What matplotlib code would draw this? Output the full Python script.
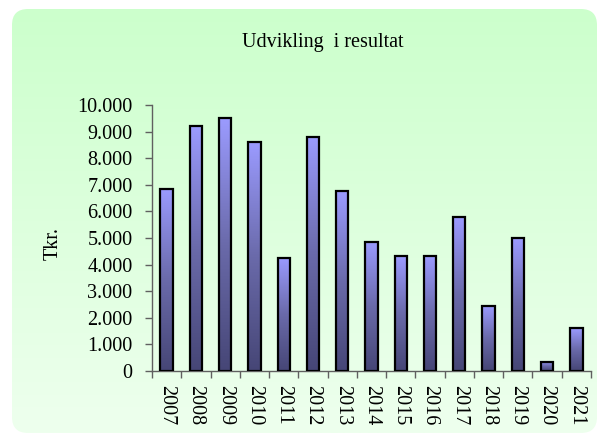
import numpy as np
import matplotlib.pyplot as plt
from matplotlib.patches import FancyBboxPatch, Rectangle
from matplotlib.colors import LinearSegmentedColormap

# --- data ---
years = ['2007', '2008', '2009', '2010', '2011', '2012', '2013', '2014',
         '2015', '2016', '2017', '2018', '2019', '2020', '2021']
resultat = [6850, 9200, 9500, 8600, 4250, 8800, 6750, 4850,
            4320, 4320, 5780, 2450, 5000, 350, 1600]
yticks = [0, 1000, 2000, 3000, 4000, 5000, 6000, 7000, 8000, 9000, 10000]
ytick_labels = ['0', '1.000', '2.000', '3.000', '4.000', '5.000', '6.000',
                '7.000', '8.000', '9.000', '10.000']

plt.rcParams['font.family'] = ['Liberation Serif', 'DejaVu Serif']
W, H = 598, 434
fig = plt.figure(figsize=(W / 100, H / 100), dpi=100)

# --- background panel with green gradient and rounded corners ---
bg = fig.add_axes([0, 0, 1, 1], zorder=-1)
bg.set_xlim(0, W)
bg.set_ylim(0, H)
bg.axis('off')
bg_cmap = LinearSegmentedColormap.from_list('bg', ['#eeffee', '#ccffcc'])
grad = np.linspace(0, 1, 256).reshape(-1, 1)
im = bg.imshow(grad, cmap=bg_cmap, aspect='auto', origin='lower',
               extent=[12, 597, 1, 425])
panel = FancyBboxPatch((12, 1), 585, 424, boxstyle='round,pad=0,rounding_size=16',
                       facecolor='none', edgecolor='none', transform=bg.transData)
bg.add_patch(panel)
im.set_clip_path(panel)

# --- chart ---
ax = fig.add_axes([152 / W, (H - 371) / H, (591 - 152) / W, (371 - 105) / H])
ax.patch.set_visible(False)
x = np.arange(len(years))
width = 0.42
bars = ax.bar(x, resultat, width=width, facecolor='none', edgecolor='black',
              linewidth=1.6, zorder=3)

bar_cmap = LinearSegmentedColormap.from_list('bar', ['#464676', '#6a6aaa', '#9b9bff'])
for b in bars:
    gi = ax.imshow(grad, cmap=bar_cmap, aspect='auto', origin='lower',
                   extent=[b.get_x(), b.get_x() + b.get_width(), 0, b.get_height()],
                   zorder=2)
    gi.set_clip_path(b)

ax.set_xlim(-0.5, len(years) - 0.5)
ax.set_ylim(0, 10000)
ax.set_yticks(yticks)
ax.set_yticklabels(ytick_labels, fontsize=14.5)
ax.set_xticks(x)
ax.set_xticklabels(years, rotation=270, fontsize=14.5, va='top', ha='center')
ax.set_xticks(np.arange(-0.5, len(years)), minor=True)
ax.tick_params(axis='x', which='major', length=0, pad=10)
ax.tick_params(axis='x', which='minor', length=5, width=1, color='#606060', direction='out')
ax.tick_params(axis='y', length=5, width=1, color='#606060', pad=9)

for s in ['top', 'right']:
    ax.spines[s].set_visible(False)
for s in ['left', 'bottom']:
    ax.spines[s].set_color('#606060')
    ax.spines[s].set_linewidth(1)

fig.text(323 / W, (H - 42) / H, 'Udvikling  i resultat', fontsize=14.5,
         ha='center', va='center')
fig.text(53 / W, (H - 243) / H, 'Tkr.', fontsize=14.5, rotation=90,
         ha='center', va='center')

fig.savefig('out.png', dpi=100)
